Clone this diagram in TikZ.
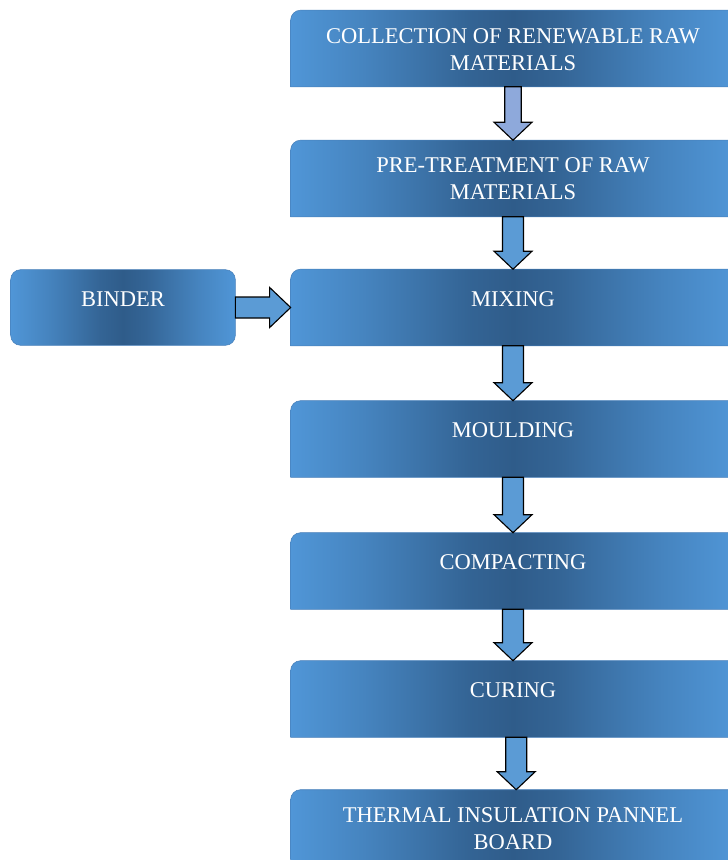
\documentclass[tikz,border=0pt]{standalone}
\usepackage{fontspec}
\setmainfont{Liberation Serif}
\usetikzlibrary{positioning,calc,backgrounds}
\definecolor{stagelight}{RGB}{80,150,215}
\definecolor{stagedark}{RGB}{47,92,138}
\definecolor{stageedge}{RGB}{72,128,186}
\definecolor{arrowblue}{RGB}{91,155,213}
\definecolor{arrowlav}{RGB}{142,169,219}
\colorlet{stageA}{stagedark!30!stagelight}
\colorlet{stageB}{stagedark!62!stagelight}
\colorlet{stageC}{stagedark!86!stagelight}
\pgfdeclarehorizontalshading{stageshade}{100bp}{color(0bp)=(stagelight); color(25bp)=(stagelight);
    color(33bp)=(stageA); color(40bp)=(stageB); color(45bp)=(stageC); color(50bp)=(stagedark);
    color(55bp)=(stageC); color(60bp)=(stageB); color(67bp)=(stageA); color(75bp)=(stagelight); color(100bp)=(stagelight)}
\begin{document}
\begin{tikzpicture}[x=0.025cm,y=-0.025cm,
    stage/.style={minimum width=11.1cm,minimum height=1.9cm,inner sep=0pt},
    binderbox/.style={minimum width=5.6cm,minimum height=1.875cm,inner sep=0pt},
    stagefill/.style={shading=stageshade,draw=stageedge,line width=0.4pt},
    stagetext/.style={text=white,font=\fontsize{16}{19.2}\selectfont,align=center,inner sep=0pt},
    downarrow/.style={draw=black,line width=0.8pt,fill=arrowblue,
        to path={($(\tikztostart)+(-#1,0)$) -- ($(\tikztotarget)+(-#1,-18)$) -- ($(\tikztotarget)+(-19,-18)$)
        -- (\tikztotarget) -- ($(\tikztotarget)+(19,-18)$) -- ($(\tikztotarget)+(#1,-18)$) -- ($(\tikztostart)+(#1,0)$) -- cycle}},
    downarrow/.default=10.5,
    rightarrow/.style={draw=black,line width=0.8pt,fill=arrowblue,
        to path={($(\tikztostart)+(0,-10.5)$) -- ($(\tikztotarget)+(-21,-10.5)$) -- ($(\tikztotarget)+(-21,-20)$)
        -- (\tikztotarget) -- ($(\tikztotarget)+(-21,20)$) -- ($(\tikztotarget)+(-21,10.5)$) -- ($(\tikztostart)+(0,10.5)$) -- cycle}}
    ]
    \useasboundingbox (0,0) rectangle (728,860);

    % process boxes
    \node[stage] (coll) at (513,48.5) {};
    \node[stage] (pre) at (513,178.5) {};
    \node[stage] (mix) at (513,307.5) {};
    \node[stage] (mould) at (513,439) {};
    \node[stage] (comp) at (513,571) {};
    \node[stage] (cure) at (513,699) {};
    \node[stage] (board) at (513,828) {};
    \node[binderbox] (binder) at (123,307.5) {};

    \begin{scope}[on background layer]
        \foreach \n in {coll,pre,mix,mould,comp,cure,board}
            \shade[stagefill] (\n.south west) [rounded corners=7pt] -- (\n.north west) [sharp corners] -- (\n.north east) -- (\n.south east) -- cycle;
        \shade[stagefill,rounded corners=7pt] (binder.south west) rectangle (binder.north east);
    \end{scope}

    % labels
    \node[stagetext,below=0.45cm of coll.north] (collT) {COLLECTION OF RENEWABLE RAW\\MATERIALS};
    \node[stagetext,below=0.43cm of pre.north] (preT) {PRE-TREATMENT OF RAW\\MATERIALS};
    \node[stagetext,below=0.55cm of mix.north] (mixT) {MIXING};
    \node[stagetext,below=0.55cm of mould.north] (mouldT) {MOULDING};
    \node[stagetext,below=0.55cm of comp.north] (compT) {COMPACTING};
    \node[stagetext,below=0.55cm of cure.north] (cureT) {CURING};
    \node[stagetext,below=0.43cm of board.north] (boardT) {THERMAL INSULATION PANNEL\\BOARD};
    \node[stagetext,below=0.55cm of binder.north] (binderT) {BINDER};

    % arrows
    \draw[downarrow=8.3,fill=arrowlav] (coll.south) to (pre.north);
    \draw[downarrow] (pre.south) to (mix.north);
    \draw[downarrow] (mix.south) to (mould.north);
    \draw[downarrow] (mould.south) to (comp.north);
    \draw[downarrow] (comp.south) to (cure.north);
    \draw[downarrow] ([xshift=0.08cm]cure.south) to ([xshift=0.08cm]board.north);
    \draw[rightarrow] (binder.east) to (mix.west);
\end{tikzpicture}
\end{document}
